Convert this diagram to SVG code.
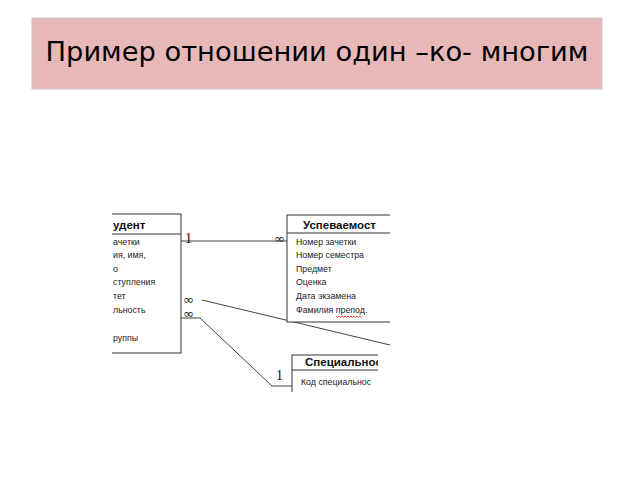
<svg xmlns="http://www.w3.org/2000/svg" width="640" height="480" viewBox="0 0 640 480">
<defs>
<clipPath id="pic"><rect x="112" y="210" width="278" height="182"/></clipPath>
<clipPath id="pic2"><rect x="112" y="340" width="266" height="52"/></clipPath>
</defs>
<style>
.box{fill:#fff;stroke:#333;stroke-width:1}
.hd{font-family:"Liberation Sans",Arial,sans-serif;font-size:11.5px;font-weight:bold;fill:#111}
.fd{font-family:"Liberation Sans",Arial,sans-serif;font-size:8.8px;fill:#222}
.ln{fill:none;stroke:#444;stroke-width:1}
.lbl{font-family:"Liberation Serif","Times New Roman",serif;font-size:14px;fill:#111}
.inf{font-family:"DejaVu Sans",sans-serif;font-size:13px;fill:#222}
</style>
<rect width="640" height="480" fill="#fff"/>
<g id="title">
<rect x="32" y="18" width="570" height="71" fill="#e6b9b8" stroke="#d4c4c4" stroke-width="1"/>
<text x="317" y="61" text-anchor="middle" font-family="DejaVu Sans, sans-serif" font-size="27.3" fill="#000">Пример отношении один –ко- многим</text>
</g>
<g clip-path="url(#pic)">
<g id="connectors">
<polyline class="ln" points="181,241 287,241"/>
<polyline class="ln" points="202,300 390,345"/>
<polyline class="ln" points="181,318 200,318 272,386 292,386"/>
<text class="lbl" x="185" y="243">1</text>
<text class="inf" x="274" y="243">∞</text>
<text class="inf" x="183" y="304">∞</text>
<text class="inf" x="183" y="318">∞</text>
<text class="lbl" x="276" y="380">1</text>
</g>
<g id="student">
<rect class="box" x="80" y="214" width="101" height="139"/>
<line class="box" x1="80" y1="234" x2="181" y2="234"/>
<text class="hd" x="113" y="229">удент</text>
<text class="fd" x="113" y="245">ачетки</text>
<text class="fd" x="113" y="258">ия, имя,</text>
<text class="fd" x="113" y="272">о</text>
<text class="fd" x="113" y="285">ступления</text>
<text class="fd" x="113" y="299">тет</text>
<text class="fd" x="113" y="313">льность</text>
<text class="fd" x="113" y="341">руппы</text>
</g>
<g id="uspevaemost">
<rect class="box" x="287" y="215" width="140" height="107"/>
<line class="box" x1="287" y1="233" x2="427" y2="233"/>
<text class="hd" x="303" y="229">Успеваемост</text>
<text class="fd" x="296" y="245">Номер зачетки</text>
<text class="fd" x="296" y="258">Номер семестра</text>
<text class="fd" x="296" y="272">Предмет</text>
<text class="fd" x="296" y="285">Оценка</text>
<text class="fd" x="296" y="299">Дата экзамена</text>
<text class="fd" x="296" y="313">Фамилия препод.</text>
<path d="M336,316 l1.5,1.5 l1.5,-1.5 l1.5,1.5 l1.5,-1.5 l1.5,1.5 l1.5,-1.5 l1.5,1.5 l1.5,-1.5 l1.5,1.5 l1.5,-1.5 l1.5,1.5 l1.5,-1.5 l1.5,1.5 l1.5,-1.5 l1.5,1.5 l1.5,-1.5 l1.5,1.5" fill="none" stroke="#d00" stroke-width="0.7"/>
</g>
</g>
<g id="specialnost" clip-path="url(#pic2)">
<rect class="box" x="292" y="355" width="130" height="60"/>
<line class="box" x1="292" y1="370" x2="422" y2="370"/>
<text class="hd" x="305" y="366">Специальнос</text>
<text class="fd" x="301" y="385">Код специальнос</text>
</g>
</svg>
